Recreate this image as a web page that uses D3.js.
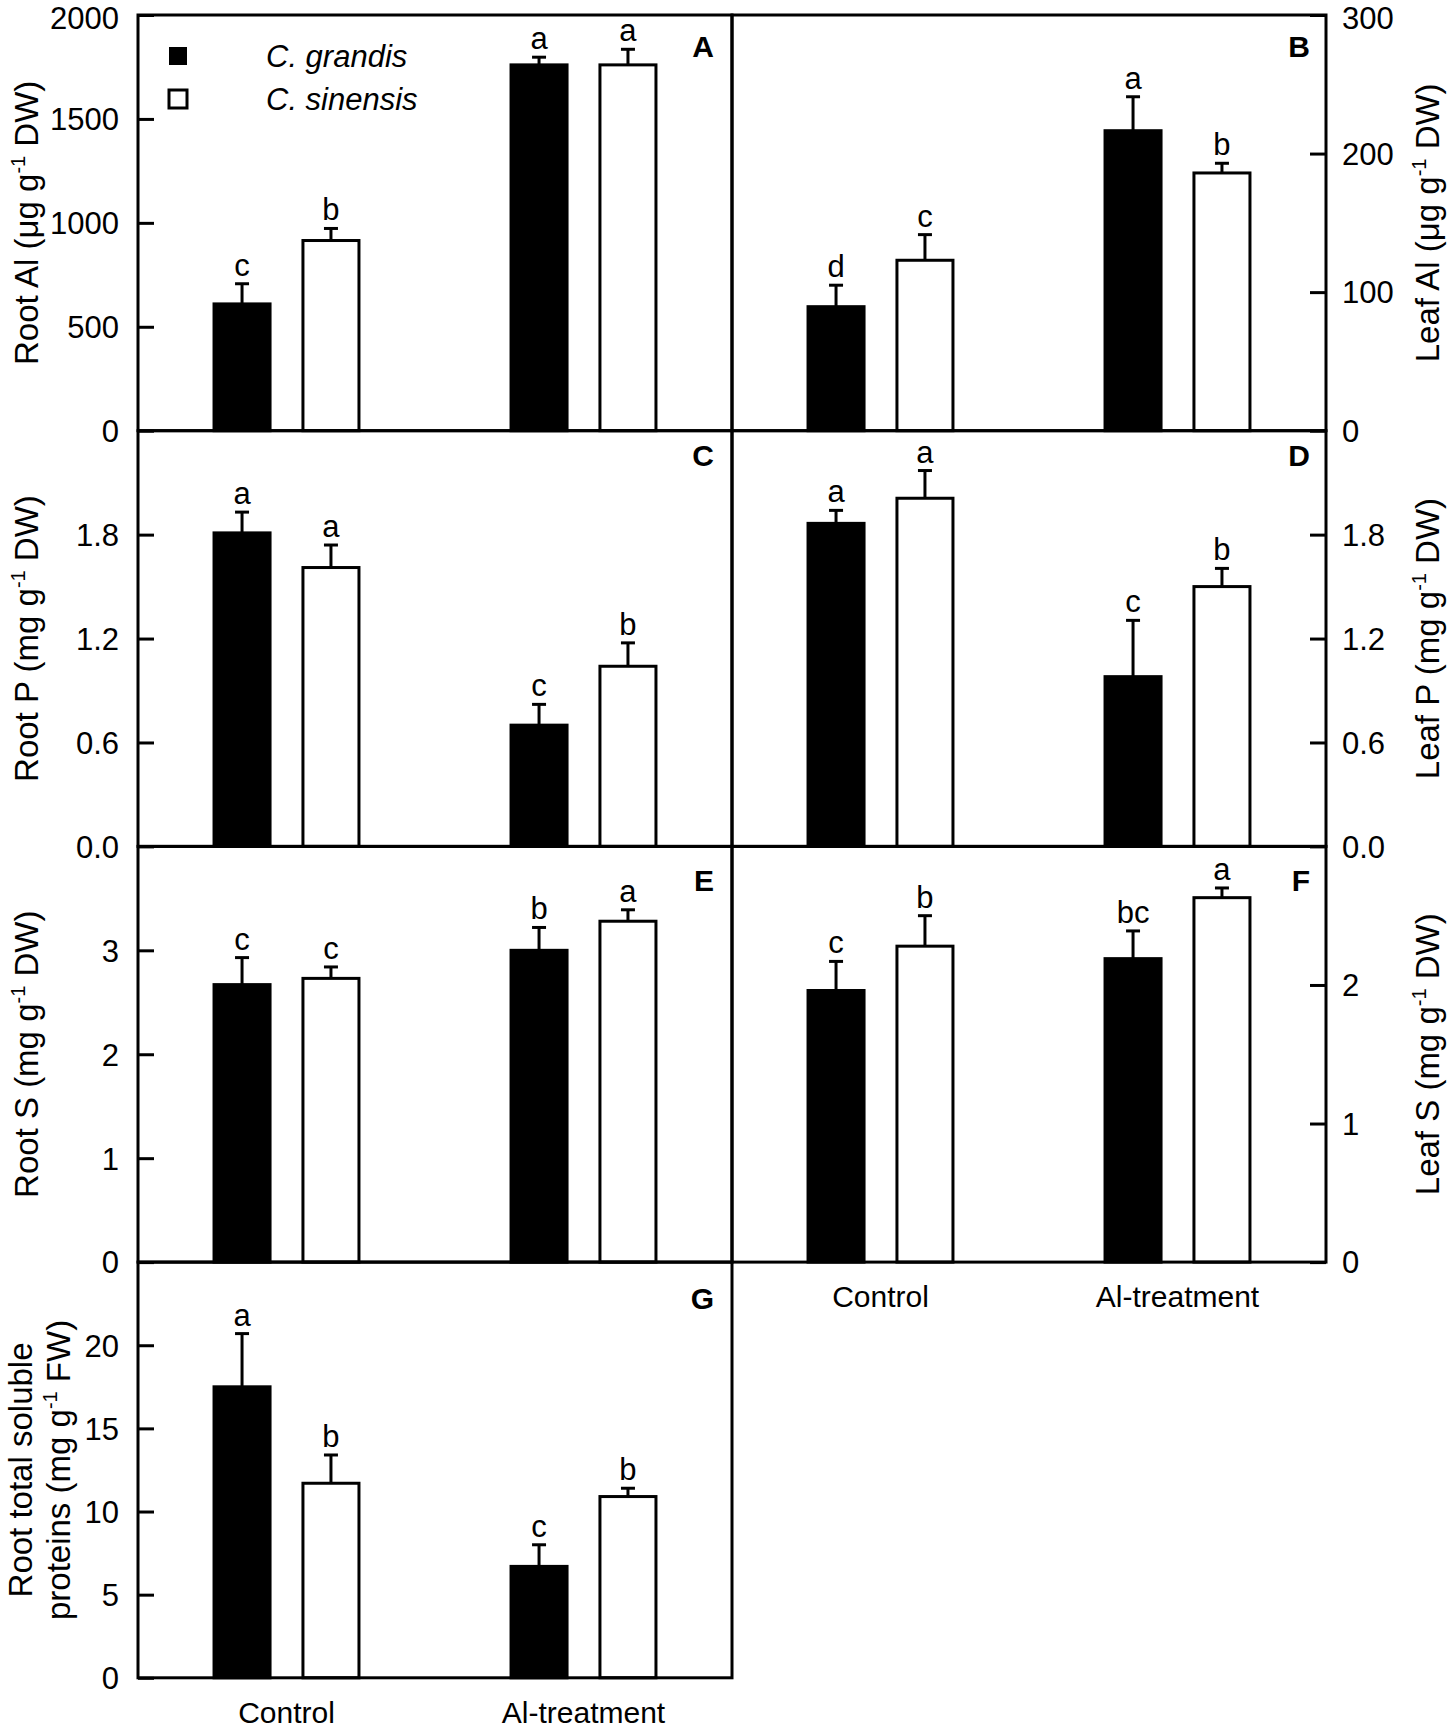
<!DOCTYPE html>
<html>
<head>
<meta charset="utf-8">
<script src="https://cdn.jsdelivr.net/npm/d3@7"></script>
<style>
  body { margin: 0; background: #fff; }
  text { font-family: "Liberation Sans", Arial, sans-serif; fill: #000; }
</style>
</head>
<body>
<svg id="chart" width="1450" height="1735"></svg>
<script>
// ---------------- DATA ----------------
const groups = ["Control", "Al-treatment"];
const species = ["C. grandis", "C. sinensis"];
// value order: [C. grandis Control, C. sinensis Control, C. grandis Al, C. sinensis Al]
const rootAlMean = [610, 915, 1760, 1760];
const rootAlSE   = [97, 58, 37, 75];
const rootAlSig  = ["c", "b", "a", "a"];
const rootAlTicks = [0, 500, 1000, 1500, 2000];

const leafAlMean = [89.5, 123, 216.5, 186];
const leafAlSE   = [15.5, 18.5, 24.5, 7];
const leafAlSig  = ["d", "c", "a", "b"];
const leafAlTicks = [0, 100, 200, 300];

const rootPMean = [1.81, 1.61, 0.70, 1.04];
const rootPSE   = [0.12, 0.13, 0.12, 0.135];
const rootPSig  = ["a", "a", "c", "b"];
const rootPTicks = [0, 0.6, 1.2, 1.8];

const leafPMean = [1.865, 2.01, 0.98, 1.50];
const leafPSE   = [0.075, 0.16, 0.325, 0.105];
const leafPSig  = ["a", "a", "c", "b"];
const leafPTicks = [0, 0.6, 1.2, 1.8];

const rootSMean = [2.67, 2.73, 3.00, 3.28];
const rootSSE   = [0.26, 0.11, 0.22, 0.11];
const rootSSig  = ["c", "c", "b", "a"];
const rootSTicks = [0, 1, 2, 3];

const leafSMean = [1.96, 2.28, 2.19, 2.63];
const leafSSE   = [0.21, 0.22, 0.20, 0.07];
const leafSSig  = ["c", "b", "bc", "a"];
const leafSTicks = [0, 1, 2];

const proteinMean = [17.5, 11.7, 6.7, 10.9];
const proteinSE   = [3.2, 1.7, 1.3, 0.5];
const proteinSig  = ["a", "b", "c", "b"];
const proteinTicks = [0, 5, 10, 15, 20];

// ---------------- PANEL SETUP ----------------
const panels = [
  { id: "A", row: 0, col: 0, side: "left",  max: 2000, ticks: rootAlTicks, fmt: "d",   mean: rootAlMean, se: rootAlSE, sig: rootAlSig,
    title: [["Root Al (μg g", "-1", " DW)"]], labelDy: 42, legend: true },
  { id: "B", row: 0, col: 1, side: "right", max: 300,  ticks: leafAlTicks, fmt: "d",   mean: leafAlMean, se: leafAlSE, sig: leafAlSig,
    title: [["Leaf Al (μg g", "-1", " DW)"]], labelDy: 42 },
  { id: "C", row: 1, col: 0, side: "left",  max: 2.4,  ticks: rootPTicks,  fmt: ".1f", mean: rootPMean, se: rootPSE, sig: rootPSig,
    title: [["Root P (mg g", "-1", " DW)"]], labelDy: 35 },
  { id: "D", row: 1, col: 1, side: "right", max: 2.4,  ticks: leafPTicks,  fmt: ".1f", mean: leafPMean, se: leafPSE, sig: leafPSig,
    title: [["Leaf P (mg g", "-1", " DW)"]], labelDy: 35 },
  { id: "E", row: 2, col: 0, side: "left",  max: 4,    ticks: rootSTicks,  fmt: "d",   mean: rootSMean, se: rootSSE, sig: rootSSig,
    title: [["Root S (mg g", "-1", " DW)"]], labelDy: 45 },
  { id: "F", row: 2, col: 1, side: "right", max: 3,    ticks: leafSTicks,  fmt: "d",   mean: leafSMean, se: leafSSE, sig: leafSSig,
    title: [["Leaf S (mg g", "-1", " DW)"]], labelDy: 45, xlabels: true },
  { id: "G", row: 3, col: 0, side: "left",  max: 25,   ticks: proteinTicks, fmt: "d",  mean: proteinMean, se: proteinSE, sig: proteinSig,
    title: [["Root total soluble", "", ""], ["proteins (mg g", "-1", " FW)"]], labelDy: 47, xlabels: true }
];

// ---------------- LAYOUT ----------------
const colX = [138, 732, 1326];
const top0 = 15;
const panelH = 415.7;
const panelW = colX[1] - colX[0];
const STROKE = 3;
const FONT_TICK = 31;
const FONT_TITLE = 33;
const FONT_SIG = 31;

const svg = d3.select("#chart");

const xGroup = d3.scaleBand().domain(groups).range([0, panelW]).padding(0);
const xSpecies = d3.scaleBand().domain(species)
  .range([xGroup.bandwidth() * 0.256, xGroup.bandwidth() * 0.744])
  .paddingInner(0.37);

panels.forEach(p => {
  const x0 = colX[p.col];
  const y0 = top0 + p.row * panelH;
  const g = svg.append("g").attr("transform", `translate(${x0},${y0})`);
  const y = d3.scaleLinear().domain([0, p.max]).range([panelH, 0]);

  const rows = p.mean.map((m, i) => ({
    group: groups[Math.floor(i / 2)],
    species: species[i % 2],
    mean: m, se: p.se[i], sig: p.sig[i]
  }));

  // bars
  g.selectAll("rect.bar").data(rows).enter().append("rect")
    .attr("class", "bar")
    .attr("x", d => xGroup(d.group) + xSpecies(d.species))
    .attr("width", xSpecies.bandwidth())
    .attr("y", d => y(d.mean))
    .attr("height", d => panelH - y(d.mean))
    .attr("fill", d => d.species === species[0] ? "#000" : "#fff")
    .attr("stroke", "#000")
    .attr("stroke-width", STROKE);

  const cx = d => xGroup(d.group) + xSpecies(d.species) + xSpecies.bandwidth() / 2;

  // error bars (upper only)
  g.selectAll("line.err").data(rows).enter().append("line")
    .attr("x1", cx).attr("x2", cx)
    .attr("y1", d => y(d.mean)).attr("y2", d => y(d.mean + d.se))
    .attr("stroke", "#000").attr("stroke-width", STROKE);
  g.selectAll("line.cap").data(rows).enter().append("line")
    .attr("x1", d => cx(d) - 7).attr("x2", d => cx(d) + 7)
    .attr("y1", d => y(d.mean + d.se)).attr("y2", d => y(d.mean + d.se))
    .attr("stroke", "#000").attr("stroke-width", STROKE);

  // significance letters
  g.selectAll("text.sig").data(rows).enter().append("text")
    .attr("x", cx)
    .attr("y", d => y(d.mean + d.se) - 8)
    .attr("text-anchor", "middle")
    .attr("font-size", FONT_SIG)
    .text(d => d.sig);

  // axis
  const fmt = d3.format(p.fmt);
  const axis = (p.side === "left" ? d3.axisLeft(y) : d3.axisRight(y))
    .tickValues(p.ticks).tickFormat(fmt)
    .tickSizeInner(-16).tickSizeOuter(0).tickPadding(p.side === "left" ? 19 : 16);
  const ag = g.append("g")
    .attr("transform", p.side === "left" ? "translate(0,0)" : `translate(${panelW},0)`)
    .call(axis);
  ag.select(".domain").remove();
  ag.selectAll(".tick line").attr("stroke", "#000").attr("stroke-width", STROKE);
  ag.selectAll(".tick text")
    .attr("font-size", FONT_TICK)
    .attr("font-family", "Liberation Sans, Arial, sans-serif")
    .attr("fill", "#000")
    .attr("dy", d => (p.row === 0 && d === p.max) ? "0.45em" : "0.35em");

  // frame
  g.append("rect").attr("x", 0).attr("y", 0).attr("width", panelW).attr("height", panelH)
    .attr("fill", "none").attr("stroke", "#000").attr("stroke-width", STROKE);

  // panel label
  g.append("text")
    .attr("x", p.side === "left" ? panelW - 18 : panelW - 16)
    .attr("y", p.labelDy)
    .attr("text-anchor", "end")
    .attr("font-size", 30).attr("font-weight", "bold")
    .text(p.id);

  // y-axis title
  const nLines = p.title.length;
  p.title.forEach((parts, li) => {
    let bx;
    if (p.side === "left") {
      bx = (nLines === 1 ? 38 : (li === 0 ? 32 : 70)) - x0;
    } else {
      bx = 1439 - x0;
    }
    const t = g.append("text")
      .attr("transform", `translate(${bx},${panelH / 2}) rotate(-90)`)
      .attr("text-anchor", "middle")
      .attr("font-size", FONT_TITLE);
    t.append("tspan").text(parts[0]);
    if (parts[1]) {
      t.append("tspan").attr("font-size", 20).attr("dy", -13).text(parts[1]);
      t.append("tspan").attr("dy", 13).text(parts[2]);
    }
  });

  // x labels
  if (p.xlabels) {
    g.selectAll("text.xl").data(groups).enter().append("text")
      .attr("x", d => xGroup(d) + xGroup.bandwidth() / 2)
      .attr("y", panelH + 45)
      .attr("text-anchor", "middle")
      .attr("font-size", 30)
      .text(d => d);
  }

  // legend
  if (p.legend) {
    const lg = g.append("g");
    species.forEach((s, i) => {
      const ly = [41, 84][i];
      lg.append("rect")
        .attr("x", 31).attr("y", ly - 9).attr("width", 18).attr("height", 18)
        .attr("fill", i === 0 ? "#000" : "#fff")
        .attr("stroke", "#000").attr("stroke-width", i === 0 ? 0 : STROKE);
      lg.append("text")
        .attr("x", 128).attr("y", ly + 11)
        .attr("font-size", 31).attr("font-style", "italic")
        .text(s);
    });
  }
});
</script>
</body>
</html>
